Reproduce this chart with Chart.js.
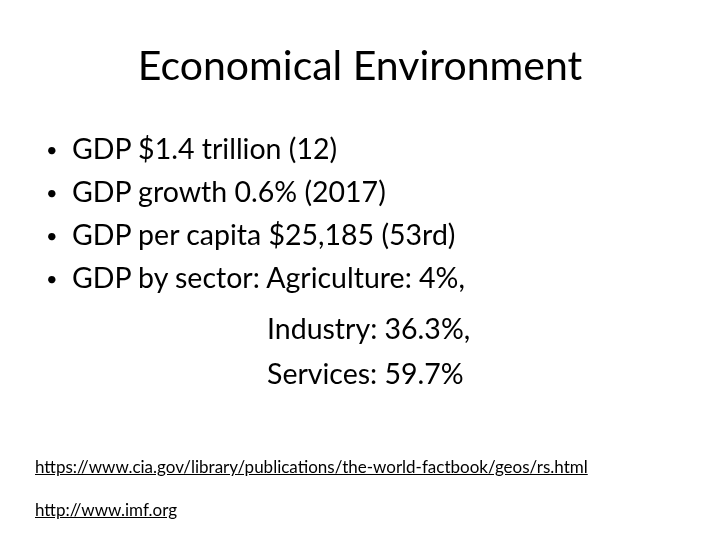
<!DOCTYPE html>
<html><head><meta charset="utf-8">
<script src="https://cdn.jsdelivr.net/npm/chart.js@4"></script>
<style>
html,body{margin:0;padding:0;background:#fff;width:720px;height:540px;overflow:hidden;font-family:Lato,"Open Sans",sans-serif;color:#000}
#c{position:absolute;left:0;top:0}
.t{position:absolute;white-space:nowrap}
#title{left:0;width:720px;text-align:center;top:40px;font-size:41px}
.b{font-size:28.5px}
.dot{font-size:20px}
.lnk{font-size:17px;text-decoration:underline;color:#000}
</style></head><body>
<canvas id="c" width="720" height="540"></canvas>
<div id="title" class="t"></div>
<div id="txt"></div>
<script>
const titleText = "Economical Environment";
const bullets = ["GDP $1.4 trillion (12)","GDP growth 0.6% (2017)","GDP per capita $25,185 (53rd)","GDP by sector: Agriculture: 4%,"];
const contLines = ["Industry: 36.3%,","Services: 59.7%"];
const links = ["https://www.cia.gov/library/publications/the-world-factbook/geos/rs.html","http://www.imf.org"];
document.getElementById('title').textContent = titleText;
const box = document.getElementById('txt');
bullets.forEach((s,i)=>{
  const d=document.createElement('div');d.className='t dot';d.style.left='46px';d.style.top=(137+i*43)+'px';d.textContent='•';box.appendChild(d);
  const e=document.createElement('div');e.className='t b';e.style.left='72px';e.style.top=(131+i*43)+'px';e.textContent=s;box.appendChild(e);
});
contLines.forEach((s,i)=>{
  const e=document.createElement('div');e.className='t b';e.style.left='267px';e.style.top=(131+(4+i)*45)+'px';e.textContent=s;box.appendChild(e);
});
links.forEach((s,i)=>{
  const e=document.createElement('div');e.className='t lnk';e.style.left='35px';e.style.top=(456+i*43)+'px';e.textContent=s;box.appendChild(e);
});
new Chart(document.getElementById('c'),{type:'bar',data:{labels:[],datasets:[]},
 options:{responsive:false,animation:false,plugins:{legend:{display:false},tooltip:{enabled:false}},
 scales:{x:{display:false},y:{display:false}}}});
</script>
</body></html>
